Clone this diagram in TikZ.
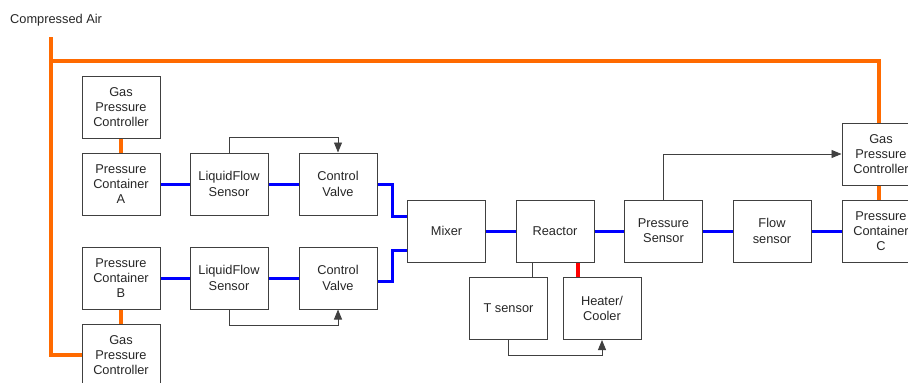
\documentclass[tikz,border=0pt]{standalone}
\usepackage{fontspec}
\setmainfont{Liberation Sans}
\usetikzlibrary{arrows.meta}
\definecolor{airorange}{HTML}{FF6A00}
\definecolor{liqblue}{HTML}{0000FF}
\definecolor{heatred}{HTML}{FF0000}
\definecolor{boxline}{HTML}{404040}
\tikzset{
  blk/.style={draw=boxline, line width=1pt, minimum width=78pt, minimum height=62pt,
    inner sep=0pt, align=center, font=\fontsize{12.8}{15.3}\selectfont, text=black!85},
  airline/.style={draw=airorange, line width=3.8pt},
  liqline/.style={draw=liqblue, line width=3pt},
  heatline/.style={draw=heatred, line width=3.5pt},
  sigline/.style={draw=boxline, line width=0.9pt},
  sigarrow/.style={sigline, -{Triangle[length=10pt,width=8pt]}}
}
\begin{document}
\begin{tikzpicture}[x=1pt,y=-1pt]
\useasboundingbox (0,0) rectangle (908,383);
\node[anchor=base west, inner sep=0pt, font=\fontsize{12.8}{15.3}\selectfont, text=black!85] (air) at (10,23) {Compressed Air};

\node[blk] (gpca) at (121,107) {Gas\\Pressure\\Controller};
\node[blk] (pca) at (121,184) {Pressure\\Container\\A};
\node[blk] (lfsa) at (229,184) {LiquidFlow\\Sensor};
\node[blk] (cva) at (338,184) {Control\\Valve};
\node[blk] (pcb) at (121,278) {Pressure\\Container\\B};
\node[blk] (gpcb) at (121,355) {Gas\\Pressure\\Controller};
\node[blk] (lfsb) at (229,278) {LiquidFlow\\Sensor};
\node[blk] (cvb) at (338,278) {Control\\Valve};
\node[blk] (mixer) at (446.5,231) {Mixer};
\node[blk] (reactor) at (555,231) {Reactor};
\node[blk] (ts) at (508.5,308.5) {T sensor};
\node[blk] (heater) at (602,308.5) {Heater/\\Cooler};
\node[blk] (ps) at (663.5,231) {Pressure\\Sensor};
\node[blk] (fs) at (772,231) {Flow\\sensor};
\node[blk] (pcc) at (881,231) {Pressure\\Container\\C};
\node[blk] (gpcc) at (881,154) {Gas\\Pressure\\Controller};

% compressed air lines
\coordinate (airtop) at (51,37);
\coordinate (airj) at (51,61);
\draw[airline] (airtop) |- (gpcb.west);
\draw[airline] (airj) -| ([xshift=-2pt]gpcc.north);
\draw[airline] (gpca) -- (pca);
\draw[airline] (pcb) -- (gpcb);
\draw[airline] ([xshift=-2pt]gpcc.south) -- ([xshift=-2pt]pcc.north);

% liquid lines
\draw[liqline] (pca) -- (lfsa);
\draw[liqline] (lfsa) -- (cva);
\draw[liqline] (pcb) -- (lfsb);
\draw[liqline] (lfsb) -- (cvb);
\draw[liqline] (cva.east) -- ++(15,0) |- ([yshift=15pt]mixer.west);
\draw[liqline] ([yshift=-3pt]cvb.east) -- ++(15,0) |- ([yshift=-19pt]mixer.west);
\draw[liqline] (mixer) -- (reactor);
\draw[liqline] (reactor) -- (ps);
\draw[liqline] (ps) -- (fs);
\draw[liqline] (fs) -- (pcc);

% heating
\draw[heatline] ([xshift=-24pt]heater.north) -- ([xshift=-24pt]heater.north |- reactor.south);

% signals
\draw[sigline] ([xshift=-23pt]reactor.south) -- ([xshift=-23pt]reactor.south |- ts.north);
\draw[sigarrow] (lfsa.north) -- ++(0,-15) -| (cva.north);
\draw[sigarrow] (lfsb.south) -- ++(0,15.5) -| (cvb.south);
\draw[sigarrow] (ts.south) -- ++(0,15) -| (heater.south);
\draw[sigarrow] (ps.north) |- (gpcc.west);
\end{tikzpicture}
\end{document}
